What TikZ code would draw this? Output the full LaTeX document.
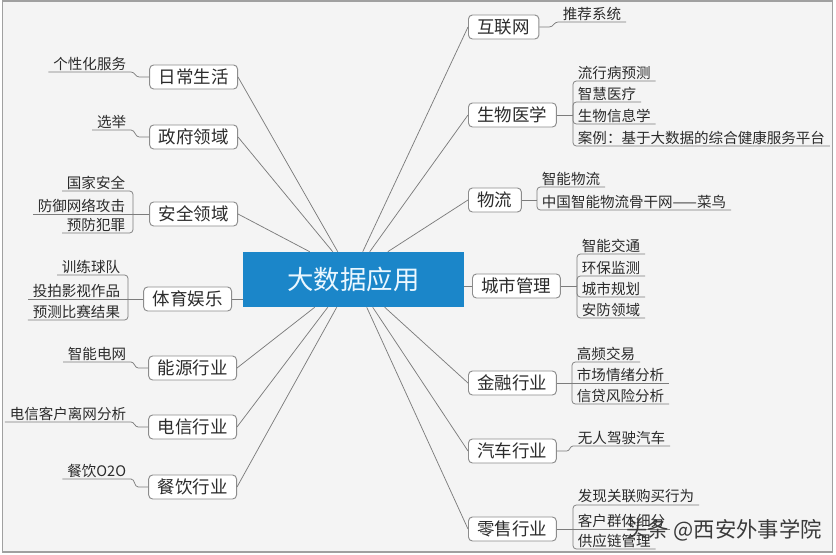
\documentclass[tikz,border=0pt]{standalone}
\usepackage{fontspec}
\setmainfont{Noto Sans CJK SC}
\usetikzlibrary{calc}
\definecolor{bgc}{HTML}{F4F4F4}
\definecolor{framec}{HTML}{A0A0A0}
\definecolor{connc}{HTML}{7C7C7C}
\definecolor{boxc}{HTML}{8C8C8C}
\definecolor{centerblue}{HTML}{1B86C9}
\definecolor{centertext}{HTML}{EAF7FF}
\definecolor{txtc}{HTML}{2B2B2B}
\definecolor{wmc}{HTML}{3A3A3A}
\begin{document}
\begin{tikzpicture}[x=0.75pt,y=-0.75pt,
  conn/.style={draw=connc, line width=0.55pt},
  bracket/.style={conn, rounded corners=2.5pt},
  branch/.style={draw=boxc, line width=0.7pt, fill=white, rounded corners=3pt,
    inner xsep=6.75pt, inner ysep=0pt, minimum height=18pt,
    font=\fontsize{13.1pt}{15pt}\selectfont, text=txtc},
  leafL/.style={anchor=south east, inner xsep=3.5pt, inner ysep=1.1pt,
    font=\fontsize{10.9pt}{12pt}\selectfont, text=txtc},
  leafR/.style={anchor=south west, inner xsep=3.5pt, inner ysep=1.1pt,
    font=\fontsize{10.9pt}{12pt}\selectfont, text=txtc}
]
\useasboundingbox (0,0) rectangle (836,555);
\fill[white] (0,0) rectangle (836,555);
\draw[draw=framec, fill=bgc, line width=0.8pt] (2.5,1) rectangle (832.5,552);

% center
\node[fill=centerblue, minimum width=165.75pt, minimum height=41.25pt, inner sep=0pt,
  text=centertext, font=\fontsize{19.8pt}{22pt}\selectfont] (C) at (353.5,279.5) {大数据应用};

% left branches
\node[branch, anchor=east] (L1) at (238,77) {日常生活};
\node[branch, anchor=east] (L2) at (238,137) {政府领域};
\node[branch, anchor=east] (L3) at (238,214) {安全领域};
\node[branch, anchor=east] (L4) at (232,299) {体育娱乐};
\node[branch, anchor=east] (L5) at (237,368) {能源行业};
\node[branch, anchor=east] (L6) at (237,427) {电信行业};
\node[branch, anchor=east] (L7) at (237,487) {餐饮行业};

% right branches
\node[branch, anchor=west] (R1) at (468,27) {互联网};
\node[branch, anchor=west] (R2) at (468,115) {生物医学};
\node[branch, anchor=west] (R3) at (468,200) {物流};
\node[branch, anchor=west] (R4) at (472,286) {城市管理};
\node[branch, anchor=west] (R5) at (468,383) {金融行业};
\node[branch, anchor=west] (R6) at (468,451) {汽车行业};
\node[branch, anchor=west] (R7) at (468,529) {零售行业};

% center connectors
\draw[conn] (L1.east) -- ($(C.north west)+(95,0)$);
\draw[conn] (L2.east) -- ($(C.north west)+(90,0)$);
\draw[conn] (L3.east) -- ($(C.north west)+(67,0)$);
\draw[conn] (L4.east) -- (L4.east -| C.west);
\draw[conn] (L5.east) -- ($(C.south west)+(72,0)$);
\draw[conn] (L6.east) -- ($(C.south west)+(85,0)$);
\draw[conn] (L7.east) -- ($(C.south west)+(94,0)$);
\draw[conn] (R1.west) -- ($(C.north west)+(120,0)$);
\draw[conn] (R2.west) -- ($(C.north west)+(127,0)$);
\draw[conn] (R3.west) -- ($(C.north west)+(145,0)$);
\draw[conn] (R4.west) -- (R4.west -| C.east);
\draw[conn] (R5.west) -- ($(C.south west)+(142,0)$);
\draw[conn] (R6.west) -- ($(C.south west)+(130,0)$);
\draw[conn] (R7.west) -- ($(C.south west)+(124,0)$);

% left leaves
\node[leafL] (l11) at (131,72) {个性化服务};
\draw[conn] (L1.west) -- ++(-10,0) to[out=180,in=0] (l11.south east) -- (l11.south west);
\node[leafL] (l21) at (131,130) {选举};
\draw[conn] (L2.west) -- ++(-10,0) to[out=180,in=0] (l21.south east) -- (l21.south west);

\coordinate (bL3) at (133,214);
\node[leafL] (l31) at (130,191) {国家安全};
\node[leafL] (l32) at (130,214) {防御网络攻击};
\node[leafL] (l33) at (130,233) {预防犯罪};
\draw[conn] (L3.west) -- (bL3);
\draw[bracket] (bL3) |- (l31.south west);
\draw[bracket] (bL3) -- (l32.south west);
\draw[bracket] (bL3) |- (l33.south west);

\coordinate (bL4) at (128,299);
\node[leafL] (l41) at (125,275) {训练球队};
\node[leafL] (l42) at (125,299) {投拍影视作品};
\node[leafL] (l43) at (125,320) {预测比赛结果};
\draw[conn] (L4.west) -- (bL4);
\draw[bracket] (bL4) |- (l41.south west);
\draw[bracket] (bL4) -- (l42.south west);
\draw[bracket] (bL4) |- (l43.south west);

\node[leafL] (l51) at (131,362) {智能电网};
\draw[conn] (L5.west) -- ++(-10,0) to[out=180,in=0] (l51.south east) -- (l51.south west);
\node[leafL] (l61) at (131,422) {电信客户离网分析};
\draw[conn] (L6.west) -- ++(-10,0) to[out=180,in=0] (l61.south east) -- (l61.south west);
\node[leafL] (l71) at (131,479) {餐饮O2O};
\draw[conn] (L7.west) -- ++(-10,0) to[out=180,in=0] (l71.south east) -- (l71.south west);

% right leaves
\node[leafR] (r11) at (558,22) {推荐系统};
\draw[conn] (R1.east) -- ++(10,0) to[out=0,in=180] (r11.south west) -- (r11.south east);

\coordinate (bR2) at (573,115);
\node[leafR] (r21) at (573,81) {流行病预测};
\node[leafR] (r22) at (573,102) {智慧医疗};
\node[leafR] (r23) at (573,124) {生物信息学};
\node[leafR] (r24) at (573,146) {案例：基于大数据的综合健康服务平台};
\draw[conn] (R2.east) -- (bR2);
\draw[bracket] (bR2) |- (r21.south east);
\draw[bracket] (bR2) |- (r22.south east);
\draw[bracket] (bR2) |- (r23.south east);
\draw[bracket] (bR2) |- (r24.south east);

\coordinate (bR3) at (537,200);
\node[leafR] (r31) at (537,187) {智能物流};
\node[leafR] (r32) at (537,210) {中国智能物流骨干网——菜鸟};
\draw[conn] (R3.east) -- (bR3);
\draw[bracket] (bR3) |- (r31.south east);
\draw[bracket] (bR3) |- (r32.south east);

\coordinate (bR4) at (577,286);
\node[leafR] (r41) at (577,254) {智能交通};
\node[leafR] (r42) at (577,276) {环保监测};
\node[leafR] (r43) at (577,297) {城市规划};
\node[leafR] (r44) at (577,318) {安防领域};
\draw[conn] (R4.east) -- (bR4);
\draw[bracket] (bR4) |- (r41.south east);
\draw[bracket] (bR4) |- (r42.south east);
\draw[bracket] (bR4) |- (r43.south east);
\draw[bracket] (bR4) |- (r44.south east);

\coordinate (bR5) at (572,383);
\node[leafR] (r51) at (572,362) {高频交易};
\node[leafR] (r52) at (572,383) {市场情绪分析};
\node[leafR] (r53) at (572,404) {信贷风险分析};
\draw[conn] (R5.east) -- (bR5);
\draw[bracket] (bR5) |- (r51.south east);
\draw[bracket] (bR5) -- (r52.south east);
\draw[bracket] (bR5) |- (r53.south east);

\node[leafR] (r61) at (573,446) {无人驾驶汽车};
\draw[conn] (R6.east) -- ++(10,0) to[out=0,in=180] (r61.south west) -- (r61.south east);

\coordinate (bR7) at (573,529);
\node[leafR] (r71) at (573,505) {发现关联购买行为};
\node[leafR] (r72) at (573,529) {客户群体细分};
\node[leafR] (r73) at (573,549) {供应链管理};
\draw[conn] (R7.east) -- (bR7);
\draw[bracket] (bR7) |- (r71.south east);
\draw[bracket] (bR7) -- (r72.south east);
\draw[bracket] (bR7) |- (r73.south east);

% watermark
\node[anchor=west, inner sep=0pt, text=wmc, font=\fontsize{16pt}{18pt}\selectfont] (wm) at (626,530) {头条 @西安外事学院};
\end{tikzpicture}
\end{document}
